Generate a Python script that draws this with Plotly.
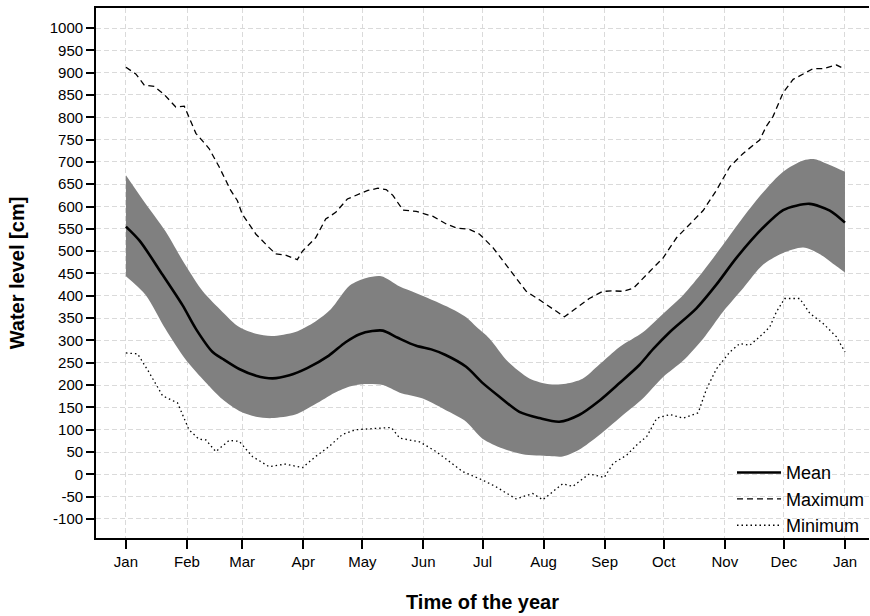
import pandas as pd
import plotly.graph_objects as go

# ---- data (day of year offsets from 1 Jan, water level in cm) ----
mean_days = [0, 7, 18.6, 28.7, 35.5, 44, 49, 57.5, 66, 74.5, 83, 92, 103, 111.5, 118.6, 125, 130.4,
             138, 147.4, 155, 162, 172.7, 181, 189.6, 199.7, 209.9, 220, 230, 240.3, 250.4, 260.6,
             267.7, 276.1, 289.6, 299.7, 309.9, 323.5, 333.6, 340.3, 347.1, 357.3, 365]
mean_vals = [555, 523, 447, 379, 326, 274, 259, 236, 221, 215, 222, 238, 266, 296, 314, 321, 322,
             306, 288, 280, 268, 241, 205, 174, 140, 126, 118, 133, 165, 204, 245,
             281, 319, 372, 425, 485, 553, 592, 602, 606, 591, 564]

upper_days = [0, 10, 20, 30, 39, 49, 57.5, 66, 74, 86, 96, 104, 113.6, 122, 129.6, 139, 147.4,
              163, 172.7, 178, 184.6, 194, 204.8, 215, 223.4, 231.8, 240.3, 250.4, 262.6, 272.7,
              282.9, 293, 303.2, 313.3, 323.5, 333.6, 343.8, 349.7, 357.3, 365]
upper_vals = [670, 606, 545, 470, 410, 364, 330, 315, 310, 319, 342, 370, 423, 440, 444, 421, 406,
              376, 352, 330, 304, 252, 215, 202, 203, 214, 246, 285, 319, 360,
              402, 455, 515, 576, 632, 678, 703, 706, 693, 678]

lower_days = [0, 10, 20, 30, 39, 49, 57.5, 66, 74, 86, 96, 106, 113.6, 120.3, 130.4, 139, 150.7,
              164, 172.7, 181, 191.3, 201.4, 215, 221.7, 230, 240.3, 251, 262, 272.7, 282.9,
              293, 303.2, 313.3, 323.5, 333.6, 343.8, 352.3, 360.7, 365]
lower_vals = [444, 402, 326, 259, 213, 168, 142, 129, 126, 134, 157, 183, 197, 202, 200, 183, 170,
              140, 118, 80, 58, 45, 41, 40, 55, 88, 128, 168, 218, 255,
              304, 365, 417, 470, 496, 508, 493, 466, 452]

max_days = [0, 5, 9.3, 14.4, 19.4, 25.3, 29.6, 35.5, 42.2, 47.3, 53.2, 56.6, 59, 66, 72.7, 76, 81,
            87, 89.6, 96.3, 101.4, 106.5, 112.4, 118.6, 122.8, 127.9, 132.1, 135.5, 140.6, 147.4,
            155.9, 162.6, 167.7, 174.4, 179.5, 186.3, 193, 198.1, 203.2, 209.9, 215, 222.6, 228.5,
            235.2, 242, 247.4, 252.5, 257.6, 266, 272.7, 279.5, 286.3, 293, 299.7, 306.5, 313.3,
            321.7, 325.1, 328.5, 333.6, 338.7, 343.8, 348.8, 353.9, 360.7, 365]
max_vals = [912, 897, 872, 869, 851, 823, 825, 764, 730, 689, 636, 613, 583, 538, 508, 494, 491,
            481, 500, 530, 572, 587, 617, 629, 636, 641, 638, 625, 592, 589,
            578, 561, 552, 549, 538, 508, 470, 440, 410, 391, 376, 353, 372,
            394, 410, 411, 410, 417, 455, 485, 530, 561, 591, 636, 689, 719,
            749, 780, 802, 855, 885, 897, 909, 909, 917, 908]

min_days = [0, 5.9, 11.8, 18.6, 26.2, 32, 37, 40.6, 45.6, 52.4, 57.5, 64.2, 72.7, 81, 89.6, 96.3,
            103, 109.8, 116.6, 120.3, 128.8, 134.7, 139, 149, 157.5, 164.3, 171, 181.1, 187.9, 198,
            206.5, 211.6, 221.7, 226.8, 235.2, 242.8, 247.4, 254.2, 259.3, 264.4, 269.5, 276.1,
            282.9, 290.5, 294.7, 299.7, 306.5, 311.6, 316.6, 321.7, 326.8, 330.2, 334.4, 342,
            347.1, 353.9, 360.7, 365]
min_vals = [272, 270, 228, 176, 160, 100, 79, 77, 51, 76, 74, 40, 17, 23, 15, 40,
            62, 89, 100, 101, 104, 105, 81, 73, 51, 28, 6, -13, -28, -55,
            -43, -57, -21, -27, 1, -7, 25, 43, 66, 85, 126, 134,
            126, 138, 191, 236, 274, 293, 289, 308, 330, 364, 394, 394,
            361, 338, 308, 274]

y_ticks = list(range(-100, 1001, 50))
y_ticklabels = [str(v) for v in y_ticks]  # plain hyphen-minus as in the reference
start = pd.Timestamp("2021-01-01")


def to_dates(days):
    return [start + pd.Timedelta(days=d) for d in days]


FONT = "Liberation Sans, Arial, sans-serif"

fig = go.Figure()

# +/- band: lower edge (invisible), then upper edge filled down to it
fig.add_trace(go.Scatter(x=to_dates(lower_days), y=lower_vals, mode="lines",
                         line=dict(width=0, shape="spline", smoothing=0.8, color="#808080"),
                         showlegend=False, hoverinfo="skip"))
fig.add_trace(go.Scatter(x=to_dates(upper_days), y=upper_vals, mode="lines", fill="tonexty",
                         fillcolor="#808080",
                         line=dict(width=0, shape="spline", smoothing=0.8, color="#808080"),
                         showlegend=False, hoverinfo="skip"))

fig.add_trace(go.Scatter(x=to_dates(mean_days), y=mean_vals, mode="lines", name="Mean",
                         line=dict(color="black", width=2.6, shape="spline", smoothing=0.8)))
fig.add_trace(go.Scatter(x=to_dates(max_days), y=max_vals, mode="lines", name="Maximum",
                         line=dict(color="black", width=1.3, dash="6px,4px")))
fig.add_trace(go.Scatter(x=to_dates(min_days), y=min_vals, mode="lines", name="Minimum",
                         line=dict(color="black", width=1.3, dash="1.5px,3px")))

x_range = [start - pd.Timedelta(days=15.2), start + pd.Timedelta(days=377.2)]

fig.update_layout(
    width=870, height=616,
    margin=dict(l=96, r=0, t=8, b=78),
    paper_bgcolor="white", plot_bgcolor="white",
    font=dict(family=FONT, size=15, color="black"),
    showlegend=True,
    legend=dict(x=0.823, y=0.158, xanchor="left", yanchor="top", traceorder="normal",
                bgcolor="rgba(0,0,0,0)", borderwidth=0,
                font=dict(family=FONT, size=18, color="black"),
                tracegroupgap=0, itemwidth=44),
    xaxis=dict(
        type="date", range=x_range, tick0="2021-01-01", dtick="M1", tickformat="%b",
        ticks="outside", ticklen=9, tickwidth=1.5, tickcolor="black",
        showline=True, linecolor="black", linewidth=1.8, mirror=True,
        showgrid=True, gridcolor="#dadada", gridwidth=1, griddash="5px,3px",
        zeroline=False,
        tickfont=dict(family=FONT, size=15, color="black"),
        title=dict(text="<b>Time of the year</b>", font=dict(family=FONT, size=20, color="black"),
                   standoff=26),
    ),
    yaxis=dict(
        range=[-142.6, 1044.8], tickvals=y_ticks, ticktext=y_ticklabels,
        ticks="outside", ticklen=8, tickwidth=1.5, tickcolor="black",
        showline=True, linecolor="black", linewidth=1.8, mirror=False,
        showgrid=True, gridcolor="#dadada", gridwidth=1, griddash="5px,3px",
        zeroline=False,
        tickfont=dict(family=FONT, size=15, color="black"),
        title=dict(text="<b>Water level [cm]</b>", font=dict(family=FONT, size=20, color="black"),
                   standoff=20),
    ),
)

fig.write_html("out.html")
